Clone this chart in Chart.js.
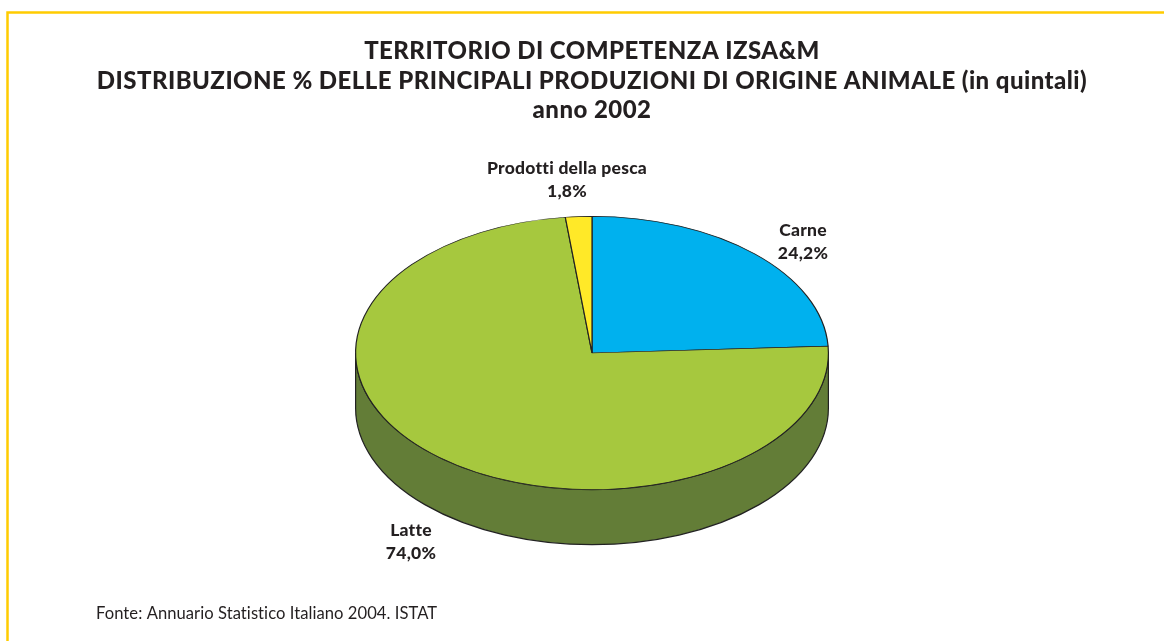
<!DOCTYPE html>
<html>
<head>
<meta charset="utf-8">
<style>html,body{margin:0;padding:0;background:#fff}canvas{display:block}</style>
<script src="https://cdn.jsdelivr.net/npm/chart.js@4"></script>
</head>
<body>
<canvas id="c" width="1164" height="641"></canvas>
<script>
const categories = ['Carne', 'Latte', 'Prodotti della pesca'];
const values = [24.2, 74.0, 1.8];
const colors = ['#00B1EE', '#A6C83E', '#FFE928'];
const titleLines = ['TERRITORIO DI COMPETENZA IZSA&M',
  'DISTRIBUZIONE % DELLE PRINCIPALI PRODUZIONI DI ORIGINE ANIMALE (in quintali)',
  'anno 2002'];
const source = 'Fonte: Annuario Statistico Italiano 2004. ISTAT';
const labelCenters = [[803, 230], [411, 530], [567, 168]];

const SQUASH = 137 / 237, DEPTH = 55, STROKE = '#222222', TEXT = '#231F20', SIDE = '#637D37';

const frame = {
  id: 'frame',
  beforeDraw(chart) {
    const c = chart.ctx;
    c.save();
    c.fillStyle = '#fff';
    c.fillRect(0, 0, 1164, 641);
    c.strokeStyle = '#FFCC00';
    c.lineWidth = 2.5;
    c.beginPath();
    c.moveTo(7.5, 641); c.lineTo(7.5, 12.5); c.lineTo(1164, 12.5);
    c.stroke();
    c.restore();
  }
};

const tilt = {
  id: 'tilt',
  beforeDatasetsDraw(chart) {
    const c = chart.ctx, a = chart.getDatasetMeta(0).data[0];
    const rx = a.outerRadius, ry = rx * SQUASH;
    c.save();
    c.beginPath();
    c.moveTo(a.x - rx, a.y);
    c.lineTo(a.x - rx, a.y + DEPTH);
    c.ellipse(a.x, a.y + DEPTH, rx, ry, 0, Math.PI, 0, true);
    c.lineTo(a.x + rx, a.y);
    c.ellipse(a.x, a.y, rx, ry, 0, 0, Math.PI, false);
    c.closePath();
    c.fillStyle = SIDE;
    c.fill();
    c.strokeStyle = STROKE;
    c.lineWidth = 1.2;
    c.stroke();
    c.restore();
    c.save();
    c.translate(a.x, a.y);
    c.scale(1, SQUASH);
    c.translate(-a.x, -a.y);
  },
  afterDatasetsDraw(chart) {
    chart.ctx.restore();
  }
};

const texts = {
  id: 'texts',
  afterDraw(chart) {
    const c = chart.ctx;
    c.save();
    c.fillStyle = TEXT;
    c.textAlign = 'center';
    c.textBaseline = 'middle';
    c.font = '900 24px Lato';
    c.letterSpacing = '0.45px';
    titleLines.forEach((t, i) => c.fillText(t, 592, 51.5 + i * 29.5));
    c.font = '900 17.5px Lato';
    c.letterSpacing = '0.25px';
    categories.forEach((name, i) => {
      const [x, y] = labelCenters[i];
      c.fillText(name, x, y);
      c.fillText(values[i].toFixed(1).replace('.', ',') + '%', x, y + 23);
    });
    c.textAlign = 'left';
    c.font = '16.6px Lato';
    c.letterSpacing = '0.05px';
    c.fillText(source, 96, 614);
    c.restore();
  }
};

new Chart(document.getElementById('c'), {
  type: 'pie',
  data: {
    labels: categories,
    datasets: [{ data: values, backgroundColor: colors, borderColor: STROKE, borderWidth: 1.2 }]
  },
  options: {
    responsive: false,
    animation: false,
    layout: { padding: { left: 355, right: 335, top: 116, bottom: 51 } },
    plugins: { legend: { display: false }, title: { display: false }, tooltip: { enabled: false } }
  },
  plugins: [frame, tilt, texts]
});
</script>
</body>
</html>
